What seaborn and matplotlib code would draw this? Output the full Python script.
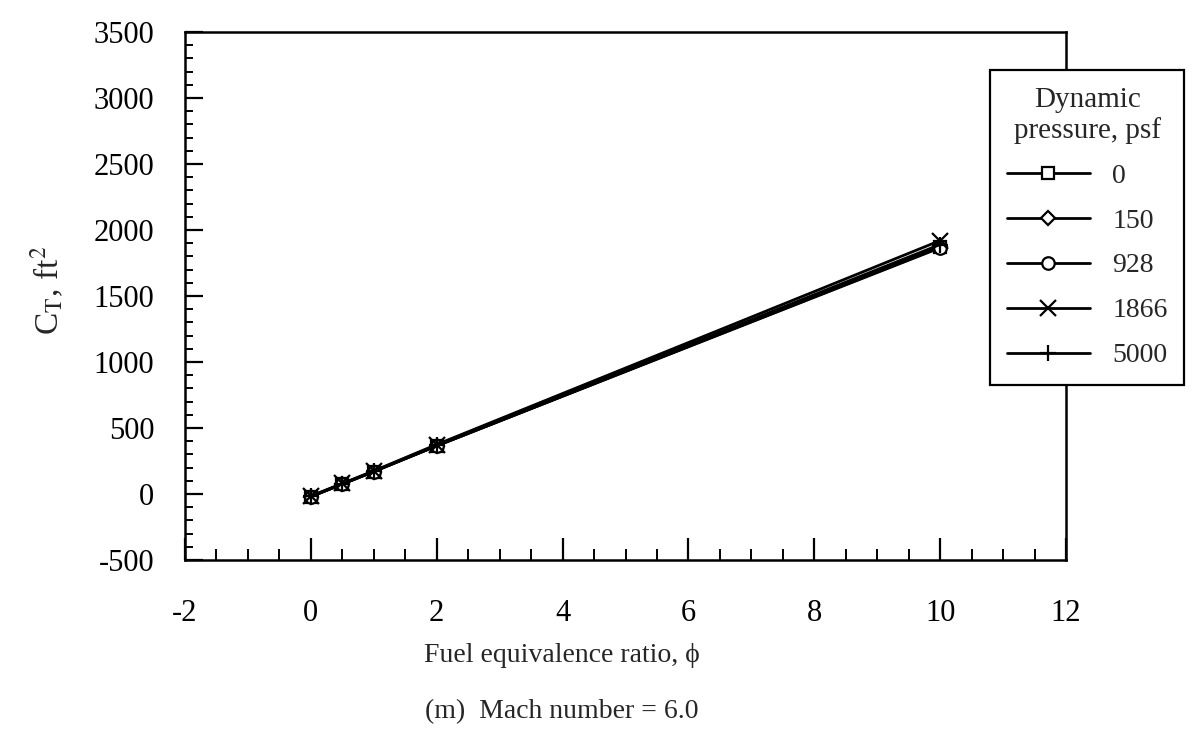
import numpy as np
import pandas as pd
import matplotlib
matplotlib.use("Agg")
import matplotlib.pyplot as plt
from matplotlib.ticker import MultipleLocator
import seaborn as sns

# fuel equivalence ratio
phi = [0.0, 0.5, 1.0, 2.0, 10.0]
# dynamic pressure, psf
q_labels = ["0", "150", "928", "1866", "5000"]
# C_T, ft^2 for each dynamic pressure
ct_0 = [-20, 75, 170, 365, 1870]
ct_150 = [-20, 75, 170, 365, 1875]
ct_928 = [-20, 75, 170, 365, 1865]
ct_1866 = [-15, 80, 175, 375, 1920]
ct_5000 = [-18, 78, 172, 370, 1890]
markers = ["s", "D", "o", "x", "+"]

series = [ct_0, ct_150, ct_928, ct_1866, ct_5000]

sns.set_theme(style="white")
plt.rcParams['font.family'] = ['Liberation Serif', 'DejaVu Serif']
plt.rcParams['mathtext.fontset'] = 'stix'
plt.rcParams['axes.unicode_minus'] = False

fig = plt.figure(figsize=(11.92, 7.36), dpi=100)
ax = fig.add_axes([185 / 1192, 1 - 560 / 736, (1066 - 185) / 1192, (560 - 32) / 736])

for lab, ct, m in zip(q_labels, series, markers):
    df = pd.DataFrame({"phi": phi, "ct": ct})
    ms = 11 if m in ("x", "+") else 9
    if m == "D":
        ms = 7
    sns.lineplot(data=df, x="phi", y="ct", ax=ax, color="black", lw=2,
                 marker=m, markersize=ms, markerfacecolor="white",
                 markeredgecolor="black", markeredgewidth=1.6, label=lab)

ax.set_xlim(-2, 12)
ax.set_ylim(-500, 3500)
ax.xaxis.set_major_locator(MultipleLocator(2))
ax.xaxis.set_minor_locator(MultipleLocator(0.5))
ax.yaxis.set_major_locator(MultipleLocator(500))
ax.yaxis.set_minor_locator(MultipleLocator(100))
ax.tick_params(which="both", direction="in", left=True, bottom=True,
               top=False, right=False, colors="black", labelsize=22)
ax.tick_params(axis="x", which="major", length=16, width=1.6, pad=28)
ax.tick_params(axis="x", which="minor", length=8, width=1.4)
ax.tick_params(axis="y", which="major", length=13, width=1.6, pad=22)
ax.tick_params(axis="y", which="minor", length=6, width=1.4)
for s in ax.spines.values():
    s.set_color("black")
    s.set_linewidth(1.8)

ax.set_xlabel("")
ax.set_ylabel("")
fig.text(0.04, 1 - 290 / 736, r"C$_{\mathrm{T}}$, ft$^2$", rotation=90, fontsize=24,
         ha="center", va="center")
fig.text(562 / 1192, 1 - 656 / 736, "Fuel equivalence ratio, \u03d5", fontsize=20,
         ha="center", va="center")
fig.text(562 / 1192, 1 - 712 / 736, "(m)  Mach number = 6.0", fontsize=20,
         ha="center", va="center")

leg = ax.legend(title="Dynamic\npressure, psf", loc="upper left",
                bbox_to_anchor=(990 / 1192, 1 - 70 / 736),
                bbox_transform=fig.transFigure, fontsize=20, title_fontsize=21,
                frameon=True, fancybox=False, shadow=False, handlelength=3.0,
                handletextpad=0.8, labelspacing=0.7, borderpad=0.6,
                borderaxespad=0)
leg.get_title().set_multialignment("center")
leg._legend_box.align = "center"
leg.get_frame().set_edgecolor("black")
leg.get_frame().set_linewidth(1.6)
leg.get_frame().set_alpha(1)

fig.savefig("out.png", dpi=100, facecolor="white")
